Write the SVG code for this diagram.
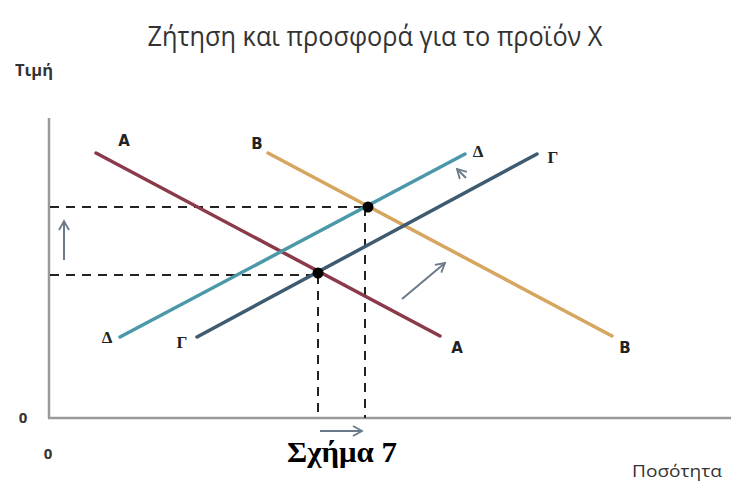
<svg xmlns="http://www.w3.org/2000/svg" width="731" height="482" viewBox="0 0 731 482">
<defs>
<style>
.axis{stroke:#9a9a9a;stroke-width:2.5;fill:none}
.dash{stroke:#222;stroke-width:2;stroke-dasharray:9 7;fill:none}
.curve{stroke-width:3.5;fill:none;stroke-linecap:round}
.lbl{font-family:"DejaVu Sans","Liberation Sans",sans-serif;font-weight:bold;font-size:15px;fill:#222;text-anchor:middle}
.glbl{font-family:"Liberation Serif","DejaVu Serif",serif;font-weight:bold;font-size:17px;fill:#222;text-anchor:middle}
.arr{stroke:#6a7a8a;stroke-width:2;fill:none}
.sans{font-family:"Open Sans","Liberation Sans",sans-serif;fill:#333}
</style>
<marker id="ah" markerWidth="12" markerHeight="12" refX="10" refY="6" orient="auto" markerUnits="userSpaceOnUse">
<path d="M1,1 L10,6 L1,11" fill="none" stroke="#6a7a8a" stroke-width="1.8"/>
</marker>
</defs>
<rect width="731" height="482" fill="#fff"/>
<text class="sans" x="375" y="46" font-size="27" text-anchor="middle" textLength="455" lengthAdjust="spacingAndGlyphs">Ζήτηση και προσφορά για το προϊόν X</text>
<text class="sans" x="34" y="76" font-size="16" font-weight="bold" text-anchor="middle" textLength="38" lengthAdjust="spacingAndGlyphs">Τιμή</text>
<text class="sans" x="677" y="477" font-size="17" text-anchor="middle" textLength="90" lengthAdjust="spacingAndGlyphs">Ποσότητα</text>
<text class="sans" x="23" y="423" font-size="15" font-weight="bold" text-anchor="middle">0</text>
<text class="sans" x="48" y="459" font-size="15" font-weight="bold" text-anchor="middle">0</text>
<text x="342" y="462" font-family="'Liberation Serif','DejaVu Serif',serif" font-weight="bold" font-size="29" text-anchor="middle" fill="#000" textLength="110" lengthAdjust="spacingAndGlyphs">Σχήμα 7</text>
<g id="axes">
<line class="axis" x1="49" y1="118" x2="49" y2="418"/>
<line class="axis" x1="48" y1="418" x2="731" y2="418"/>
</g>
<g id="connectors">
<line class="dash" x1="50" y1="207" x2="368" y2="207"/>
<line class="dash" x1="50" y1="275" x2="318" y2="275"/>
<line class="dash" x1="318" y1="275" x2="318" y2="418"/>
<line class="dash" x1="365" y1="207" x2="365" y2="418"/>
<line class="arr" x1="64" y1="260" x2="64" y2="221" marker-end="url(#ah)"/>
<line class="arr" x1="402" y1="299" x2="445" y2="263" marker-end="url(#ah)"/>
<line class="arr" x1="466" y1="178" x2="457" y2="169" marker-end="url(#ah)"/>
<line class="arr" x1="320" y1="431" x2="362" y2="431" marker-end="url(#ah)"/>
</g>
<g id="curveA">
<line class="curve" stroke="#8a3a4a" x1="96" y1="153" x2="440" y2="336"/>
<text class="lbl" x="124" y="146">A</text>
<text class="lbl" x="457" y="353">A</text>
</g>
<g id="curveB">
<line class="curve" stroke="#d6a55e" x1="268" y1="153" x2="612" y2="336"/>
<text class="lbl" x="257" y="149">B</text>
<text class="lbl" x="625" y="353">B</text>
</g>
<g id="curveD">
<line class="curve" stroke="#4a98a8" x1="120" y1="337" x2="465" y2="154"/>
<text class="glbl" x="107" y="343">Δ</text>
<text class="glbl" x="478" y="157">Δ</text>
</g>
<g id="curveG">
<line class="curve" stroke="#3f5b70" x1="197" y1="337" x2="537" y2="154"/>
<text class="glbl" x="182" y="348">Γ</text>
<text class="glbl" x="553" y="163">Γ</text>
</g>
<g id="equilibria">
<circle cx="368" cy="207" r="5.5" fill="#000"/>
<circle cx="318" cy="273" r="5.5" fill="#000"/>
</g>
</svg>
